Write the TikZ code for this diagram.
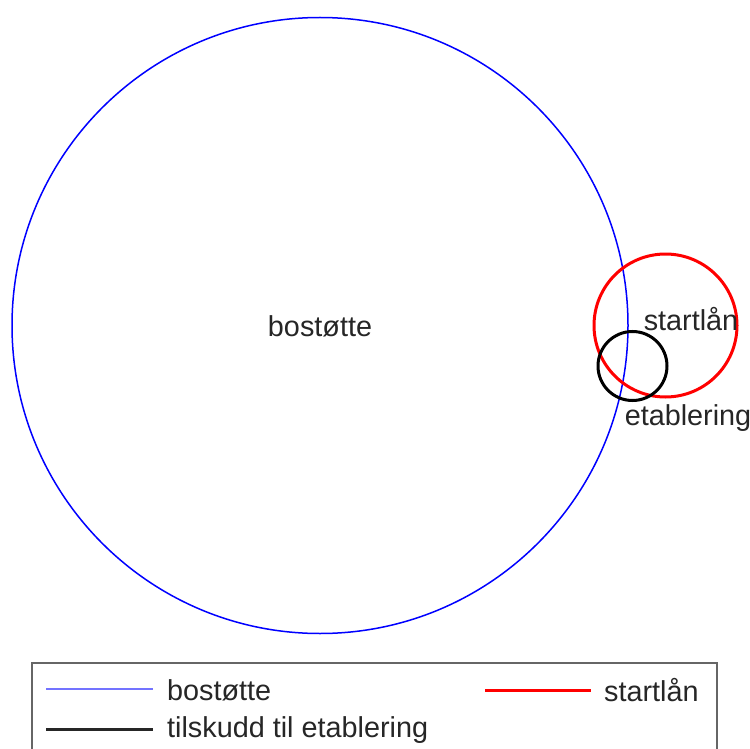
\documentclass[tikz,border=0pt]{standalone}
\usepackage{fontspec}
\setmainfont{Liberation Sans}
\begin{document}
\begin{tikzpicture}[x=1pt,y=-1pt,
  lbl/.style={font=\fontsize{28.8}{32}\selectfont, text=black!85, inner sep=0pt},
  bluec/.style={draw=blue, line width=1.5pt},
  redc/.style={draw=red, line width=3pt},
  blackc/.style={draw=black, line width=3pt}]
\useasboundingbox (0,0) rectangle (750,749);
\clip (0,0) rectangle (750,749);
% circles
\draw[bluec] (320,325.5) circle[radius=308];
\draw[redc] (665.5,325.5) circle[radius=71.5];
\draw[blackc] (632.5,366) circle[radius=34.5];
% labels
\node[lbl] (lb) at (320,326) {bostøtte};
\node[lbl] (ls) at (691,319) {startlån};
\node[lbl] (le) at (688,418) {etablering};
% legend
\draw[draw=black!60, line width=1.5pt] (32,663) rectangle (717,770);
\coordinate (b1) at (46,689); \coordinate (b2) at (153,689);
\coordinate (r1) at (485,690); \coordinate (r2) at (591,690);
\coordinate (k1) at (46,729); \coordinate (k2) at (153,729);
\draw[draw=blue!55, line width=1.3pt] (b1) -- (b2);
\draw[draw=red, line width=3pt] (r1) -- (r2);
\draw[draw=black!85, line width=3pt] (k1) -- (k2);
\node[lbl, anchor=west] (tb) at (167,690) {bostøtte};
\node[lbl, anchor=west] (tr) at (604,690) {startlån};
\node[lbl, anchor=west] (tk) at (167,730) {tilskudd til etablering};
\end{tikzpicture}
\end{document}
